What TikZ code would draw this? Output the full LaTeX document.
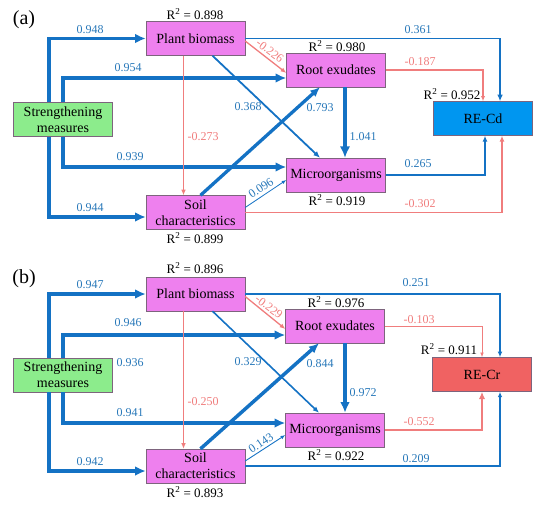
\documentclass[tikz,border=0pt]{standalone}
\usepackage{fontspec}
\setmainfont{Liberation Serif}
\usetikzlibrary{arrows.meta}

\definecolor{lineblue}{RGB}{20,114,196}
\definecolor{numblue}{RGB}{40,120,185}
\definecolor{linered}{RGB}{240,125,125}
\definecolor{boxpink}{RGB}{238,128,238}
\definecolor{boxgreen}{RGB}{140,236,140}
\definecolor{cdblue}{RGB}{0,150,240}
\definecolor{crred}{RGB}{240,98,98}
\definecolor{boxline}{RGB}{125,100,125}

\tikzset{
  box/.style={draw=boxline, fill=boxpink, minimum width=99pt, minimum height=34pt, inner sep=1pt, align=center, font=\fontsize{14}{16}\selectfont},
  posline/.style={draw=lineblue, line width=#1, -{Latex[length=3pt 2,width=2pt 2]}},
  negline/.style={draw=linered, line width=#1, -{Latex[length=3pt 2,width=2pt 2]}},
  coef/.style={text=numblue, inner sep=1pt, font=\fontsize{12}{14}\selectfont},
  ncoef/.style={coef, text=linered},
  rsq/.style={inner sep=1pt, font=\fontsize{13}{15}\selectfont},
  tag/.style={font=\fontsize{20}{22}\selectfont}
}

\begin{document}
\begin{tikzpicture}[x=1pt, y=-1pt]
    \useasboundingbox (0,0) rectangle (534,509);

    % (a) RE-Cd
    \node[tag] (tagA) at (24,20) {(a)};
    \node[box, fill=boxgreen] (SMa) at (63,119.5) {Strengthening\\measures};
    \node[box] (PBa) at (195.5,38.5) {Plant biomass};
    \node[box] (SCa) at (195.5,212.5) {Soil\\characteristics};
    \node[box] (REa) at (336,70) {Root exudates};
    \node[box] (MOa) at (336,175) {Microorganisms};
    \node[box, fill=cdblue] (CDa) at (483,118.5) {RE-Cd};

    \node[rsq] (r2PBa) at (195,14) {R\textsuperscript{2} = 0.898};
    \node[rsq] (r2SCa) at (195,238) {R\textsuperscript{2} = 0.899};
    \node[rsq] (r2REa) at (337,46) {R\textsuperscript{2} = 0.980};
    \node[rsq] (r2MOa) at (337,200) {R\textsuperscript{2} = 0.919};
    \node[rsq] (r2CDa) at (452,94) {R\textsuperscript{2} = 0.952};

    \draw[posline=3.8pt] ([xshift=-14pt]SMa.north) |- (PBa);
    \draw[posline=3.8pt] ([xshift=-14pt]SMa.south) |- ([yshift=-4.5pt]SCa.west);
    \draw[posline=3.8pt] (SMa.north) |- ([yshift=-8pt]REa.west);
    \draw[posline=3.8pt] (SMa.south) |- ([yshift=8pt]MOa.west);
    \draw[negline=1.3pt] ([yshift=-2.5pt]PBa.east) -- ([yshift=-3pt]REa.west);
    \draw[posline=1.8pt] ([xshift=17pt]PBa.south) -- ([xshift=-16pt]MOa.north);
    \draw[negline=1.3pt] ([xshift=-12pt]PBa.south) -- ([xshift=-12pt]SCa.north);
    \draw[posline=3.3pt] ([xshift=5pt]SCa.north) -- ([xshift=-16pt]REa.south);
    \draw[posline=0.8pt] ([yshift=5pt]SCa.east) -- ([yshift=-5pt]MOa.west);
    \draw[posline=4.2pt] ([xshift=9pt]REa.south) -- ([xshift=9pt]MOa.north);
    \draw[posline=1.8pt] (PBa.east) -| ([xshift=17pt]CDa.north);
    \draw[negline=1.1pt] (REa.east) -| (CDa);
    \draw[posline=1.5pt] (MOa.east) -| ([xshift=2pt]CDa.south);
    \draw[negline=1.4pt] (SCa.east) -| ([xshift=19pt]CDa.south);

    \node[coef] (wSMPBa) at (90,30) {0.948};
    \node[coef] (wSMREa) at (128,68) {0.954};
    \node[coef] (wSMMOa) at (130,157) {0.939};
    \node[coef] (wSMSCa) at (90,208) {0.944};
    \node[ncoef] (wPBSCa) at (203,137) {-0.273};
    \node[coef] (wPBMOa) at (248,107) {0.368};
    \node[ncoef, rotate=-37] (wPBREa) at (270,51) {-0.226};
    \node[coef] (wSCREa) at (320,108) {0.793};
    \node[coef, rotate=34] (wSCMOa) at (261,188) {0.096};
    \node[coef] (wREMOa) at (363,137) {1.041};
    \node[coef] (wPBCDa) at (418,30) {0.361};
    \node[ncoef] (wRECDa) at (420,62) {-0.187};
    \node[coef] (wMOCDa) at (418,164) {0.265};
    \node[ncoef] (wSCCDa) at (420,204) {-0.302};

    % (b) RE-Cr
    \node[tag] (tagB) at (24,279) {(b)};
    \node[box, fill=boxgreen] (SMb) at (63,375) {Strengthening\\measures};
    \node[box] (PBb) at (195.5,294) {Plant biomass};
    \node[box] (SCb) at (195.5,466) {Soil\\characteristics};
    \node[box] (REb) at (335,326) {Root exudates};
    \node[box] (MOb) at (335,430) {Microorganisms};
    \node[box, fill=crred] (CRb) at (482,374.5) {RE-Cr};

    \node[rsq] (r2PBb) at (195,268) {R\textsuperscript{2} = 0.896};
    \node[rsq] (r2SCb) at (195,492) {R\textsuperscript{2} = 0.893};
    \node[rsq] (r2REb) at (336,302) {R\textsuperscript{2} = 0.976};
    \node[rsq] (r2MOb) at (336,455) {R\textsuperscript{2} = 0.922};
    \node[rsq] (r2CRb) at (449,349) {R\textsuperscript{2} = 0.911};

    \draw[posline=3.8pt] ([xshift=-14pt]SMb.north) |- (PBb);
    \draw[posline=3.8pt] ([xshift=-14pt]SMb.south) |- ([yshift=-5pt]SCb.west);
    \draw[posline=3.8pt] (SMb.north) |- ([yshift=-9pt]REb.west);
    \draw[posline=3.8pt] (SMb.south) |- ([yshift=7pt]MOb.west);
    \draw[negline=1.3pt] ([yshift=-2.5pt]PBb.east) -- ([yshift=-3pt]REb.west);
    \draw[posline=1.6pt] ([xshift=17pt]PBb.south) -- ([xshift=-16pt]MOb.north);
    \draw[negline=1.3pt] ([xshift=-12pt]PBb.south) -- ([xshift=-12pt]SCb.north);
    \draw[posline=3.5pt] ([xshift=5pt]SCb.north) -- ([xshift=-16pt]REb.south);
    \draw[posline=0.9pt] ([yshift=5pt]SCb.east) -- ([yshift=-5pt]MOb.west);
    \draw[posline=3.9pt] ([xshift=10pt]REb.south) -- ([xshift=10pt]MOb.north);
    \draw[posline=1.4pt] (PBb.east) -| ([xshift=18pt]CRb.north);
    \draw[negline=0.9pt] (REb.east) -| (CRb);
    \draw[negline=2.2pt] (MOb.east) -| (CRb);
    \draw[posline=1.2pt] (SCb.east) -| ([xshift=18pt]CRb.south);

    \node[coef] (wSMPBb) at (90,285) {0.947};
    \node[coef] (wSMREb) at (128,323) {0.946};
    \node[coef] (wSMb) at (130,363) {0.936};
    \node[coef] (wSMMOb) at (130,413) {0.941};
    \node[coef] (wSMSCb) at (90,462) {0.942};
    \node[ncoef] (wPBSCb) at (203,402) {-0.250};
    \node[coef] (wPBMOb) at (248,362) {0.329};
    \node[ncoef, rotate=-37] (wPBREb) at (269,307) {-0.229};
    \node[coef] (wSCREb) at (320,364) {0.844};
    \node[coef, rotate=34] (wSCMOb) at (261,443) {0.143};
    \node[coef] (wREMOb) at (363,393) {0.972};
    \node[coef] (wPBCRb) at (416,283) {0.251};
    \node[ncoef] (wRECRb) at (419,320) {-0.103};
    \node[ncoef] (wMOCRb) at (419,422) {-0.552};
    \node[coef] (wSCCRb) at (416,459) {0.209};
\end{tikzpicture}
\end{document}
